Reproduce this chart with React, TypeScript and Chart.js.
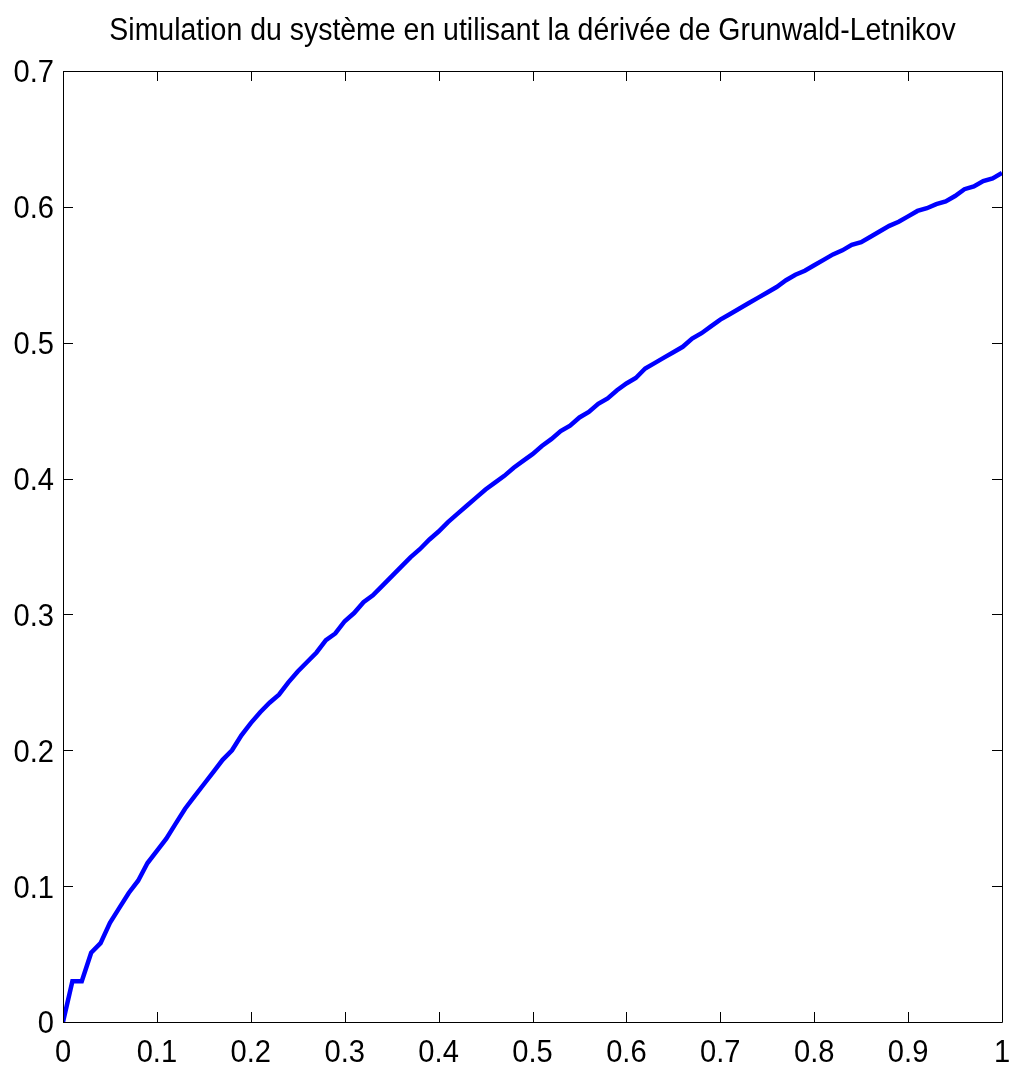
import React, { useEffect, useRef } from "react";
import { Chart, registerables } from "chart.js";

Chart.register(...registerables);

const TITLE = "Simulation du système en utilisant la dérivée de Grunwald-Letnikov";

const xValues: number[] = [
  0.0, 0.01, 0.02, 0.03, 0.04, 0.05, 0.06, 0.07, 0.08, 0.09,
  0.1, 0.11, 0.12, 0.13, 0.14, 0.15, 0.16, 0.17, 0.18, 0.19,
  0.2, 0.21, 0.22, 0.23, 0.24, 0.25, 0.26, 0.27, 0.28, 0.29,
  0.3, 0.31, 0.32, 0.33, 0.34, 0.35, 0.36, 0.37, 0.38, 0.39,
  0.4, 0.41, 0.42, 0.43, 0.44, 0.45, 0.46, 0.47, 0.48, 0.49,
  0.5, 0.51, 0.52, 0.53, 0.54, 0.55, 0.56, 0.57, 0.58, 0.59,
  0.6, 0.61, 0.62, 0.63, 0.64, 0.65, 0.66, 0.67, 0.68, 0.69,
  0.7, 0.71, 0.72, 0.73, 0.74, 0.75, 0.76, 0.77, 0.78, 0.79,
  0.8, 0.81, 0.82, 0.83, 0.84, 0.85, 0.86, 0.87, 0.88, 0.89,
  0.9, 0.91, 0.92, 0.93, 0.94, 0.95, 0.96, 0.97, 0.98, 0.99,
  1.0,
];

const yValues: number[] = [
  0.0, 0.03, 0.03, 0.051, 0.058, 0.073, 0.084, 0.095, 0.104, 0.117,
  0.126, 0.135, 0.146, 0.157, 0.166, 0.175, 0.184, 0.193, 0.2, 0.211,
  0.22, 0.228, 0.235, 0.241, 0.25, 0.258, 0.265, 0.272, 0.281, 0.286,
  0.295, 0.301, 0.309, 0.314, 0.321, 0.328, 0.335, 0.342, 0.348, 0.355,
  0.361, 0.368, 0.374, 0.38, 0.386, 0.392, 0.397, 0.402, 0.408, 0.413,
  0.418, 0.424, 0.429, 0.435, 0.439, 0.445, 0.449, 0.455, 0.459, 0.465,
  0.47, 0.474, 0.481, 0.485, 0.489, 0.493, 0.497, 0.503, 0.507, 0.512,
  0.517, 0.521, 0.525, 0.529, 0.533, 0.537, 0.541, 0.546, 0.55, 0.553,
  0.557, 0.561, 0.565, 0.568, 0.572, 0.574, 0.578, 0.582, 0.586, 0.589,
  0.593, 0.597, 0.599, 0.602, 0.604, 0.608, 0.613, 0.615, 0.619, 0.621,
  0.625,
];

const xTickLabels: string[] = ["0", "0.1", "0.2", "0.3", "0.4", "0.5", "0.6", "0.7", "0.8", "0.9", "1"];
const yTickLabels: string[] = ["0", "0.1", "0.2", "0.3", "0.4", "0.5", "0.6", "0.7"];

const FONT = "'Liberation Sans', Arial, Helvetica, sans-serif";
const SQUEEZE = 0.91;

function drawSqueezed(ctx: any, text: string, x: number, y: number, align: string, size: number, squeeze: number) {
  ctx.save();
  ctx.translate(x, y);
  ctx.scale(squeeze, 1);
  ctx.font = `normal ${size}px ${FONT}`;
  ctx.fillStyle = "#000";
  ctx.textAlign = align;
  ctx.textBaseline = "alphabetic";
  ctx.fillText(text, 0, 0);
  ctx.restore();
}

const frameTicksPlugin = {
  id: "frameTicks",
  afterDraw(chart: any) {
    const { ctx, chartArea } = chart;
    const { left, right, top, bottom } = chartArea;
    const xs = chart.scales.x;
    const ys = chart.scales.y;
    const len = 10;
    ctx.save();
    ctx.strokeStyle = "#000";
    ctx.lineWidth = 1;
    ctx.beginPath();
    ctx.rect(Math.round(left) + 0.5, Math.round(top) + 0.5, Math.round(right - left), Math.round(bottom - top));
    ctx.stroke();
    ctx.beginPath();
    xs.ticks.forEach((t: any) => {
      const px = Math.round(xs.getPixelForValue(t.value)) + 0.5;
      ctx.moveTo(px, bottom);
      ctx.lineTo(px, bottom - len);
      ctx.moveTo(px, top);
      ctx.lineTo(px, top + len);
    });
    ys.ticks.forEach((t: any) => {
      const py = Math.round(ys.getPixelForValue(t.value)) + 0.5;
      ctx.moveTo(left, py);
      ctx.lineTo(left + len, py);
      ctx.moveTo(right, py);
      ctx.lineTo(right - len, py);
    });
    ctx.stroke();
    ctx.restore();

    const size = 32;
    xs.ticks.forEach((t: any, i: number) => {
      const px = xs.getPixelForValue(t.value);
      drawSqueezed(ctx, xTickLabels[i], px, bottom + 40, "center", size, SQUEEZE);
    });
    ys.ticks.forEach((t: any, i: number) => {
      const py = ys.getPixelForValue(t.value);
      drawSqueezed(ctx, yTickLabels[i], left - 9, py + size * 0.358, "right", size, SQUEEZE);
    });
    drawSqueezed(ctx, TITLE, (left + right) / 2, top - 31, "center", 31, 0.918);
  },
};

export default function App() {
  const canvasRef = useRef<HTMLCanvasElement | null>(null);

  useEffect(() => {
    document.body.style.margin = "0";
    const canvas = canvasRef.current;
    if (!canvas) return;
    const chart = new Chart(canvas, {
      type: "line",
      data: {
        datasets: [
          {
            data: xValues.map((x, i) => ({ x, y: yValues[i] })),
            borderColor: "#0000ff",
            borderWidth: 4.5,
            pointRadius: 0,
            tension: 0,
            fill: false,
          },
        ],
      },
      options: {
        animation: false,
        responsive: false,
        maintainAspectRatio: false,
        layout: { padding: { left: 0, right: 15, top: 71, bottom: 0 } },
        plugins: {
          legend: { display: false },
          tooltip: { enabled: false },
          title: { display: false },
        },
        scales: {
          x: {
            type: "linear",
            min: 0,
            max: 1,
            border: { display: false },
            grid: { display: false, drawTicks: false },
            ticks: { stepSize: 0.1, display: false },
            afterFit: (s: any) => {
              s.height = 48;
            },
          },
          y: {
            type: "linear",
            min: 0,
            max: 0.7,
            border: { display: false },
            grid: { display: false, drawTicks: false },
            ticks: { stepSize: 0.1, display: false },
            afterFit: (s: any) => {
              s.width = 63;
            },
          },
        },
      },
      plugins: [frameTicksPlugin],
    });
    return () => chart.destroy();
  }, []);

  return (
    <div style={{ width: 1017, height: 1070, background: "#fff" }}>
      <canvas ref={canvasRef} width={1017} height={1070} style={{ display: "block" }} />
    </div>
  );
}
